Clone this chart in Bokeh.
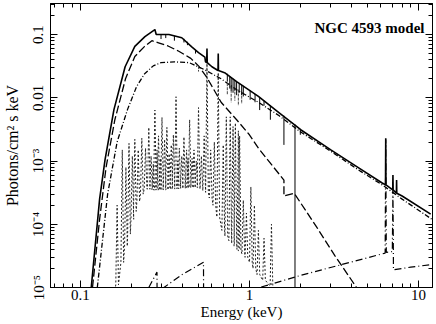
import numpy as np
from bokeh.plotting import figure
from bokeh.models import LogAxis, FixedTicker, Range1d, Label
from bokeh.embed import file_html
from bokeh.resources import INLINE

# ---------------- data ----------------
# total model (solid)
tot_E = [0.116, 0.13, 0.14, 0.158, 0.184, 0.21, 0.241, 0.276, 0.281, 0.334, 0.398, 0.456,
         0.50, 0.545, 0.55, 0.559, 0.561, 0.563, 0.60, 0.652, 0.654, 0.656, 0.713, 0.84,
         1.13, 1.5, 2.02, 3.03, 4.5, 6.1, 6.38, 6.4, 6.42, 7.04, 7.06, 7.08, 7.4, 7.42,
         7.44, 8.0, 11.8]
tot_F = [1e-5, 2.5e-4, 1.05e-3, 6.5e-3, 0.031, 0.065, 0.093, 0.12, 0.1, 0.1, 0.089, 0.064,
         0.052, 0.044, 0.037, 0.036, 0.06, 0.036, 0.031, 0.027, 0.05, 0.027, 0.025, 0.018,
         0.0105, 0.0058, 0.0031, 0.0015, 7.6e-4, 4.5e-4, 4.2e-4, 2.3e-3, 4.2e-4, 3.5e-4, 6e-4,
         3.5e-4, 3.1e-4, 5e-4, 3.1e-4, 2.8e-4, 1.45e-4]

# absorption lines on the total model
abs_E = [0.30, 0.32, 0.36, 0.41, 0.43, 0.48, 0.74, 0.765, 0.78, 0.80, 0.82, 0.84, 0.87,
         0.90, 0.92, 1.01, 1.08, 1.15, 1.22, 1.33, 1.6, 1.86, 2.0]
abs_top = [0.1, 0.1, 0.095, 0.086, 0.077, 0.057, 0.024, 0.022, 0.021, 0.020, 0.019, 0.018,
           0.017, 0.016, 0.0155, 0.013, 0.0115, 0.0102, 0.009, 0.0076, 0.0052, 0.0038, 0.0032]
abs_bot = [0.085, 0.088, 0.08, 0.075, 0.068, 0.05, 0.018, 0.014, 0.013, 0.012, 0.013, 0.011,
           0.012, 0.011, 0.0105, 0.0093, 0.0085, 0.0064, 0.0075, 0.0045, 0.0018, 9e-6, 0.0026]

# soft excess component (long dash)
soft_E = [0.118, 0.13, 0.142, 0.16, 0.185, 0.21, 0.24, 0.265, 0.29, 0.33, 0.38, 0.45, 0.5,
          0.56, 0.68, 0.84, 1.0, 1.13, 1.28, 1.6, 1.6, 1.84, 2.5, 3.2, 4.3]
soft_F = [1e-5, 1.2e-4, 8e-4, 4.5e-3, 0.02, 0.045, 0.065, 0.08, 0.074, 0.066, 0.055, 0.042,
          0.032, 0.021, 0.0085, 0.0045, 0.0026, 0.0016, 0.00105, 0.0005, 0.00028, 0.00031,
          9e-5, 3.2e-5, 1e-5]

# absorbed power law (dash-dot)
pl_E = [0.126, 0.145, 0.165, 0.19, 0.215, 0.24, 0.27, 0.3, 0.36, 0.44, 0.54, 0.68, 0.84,
        1.13, 1.5, 2.0, 3.0, 4.5, 6.1, 8.0, 12.0]
pl_F = [1e-5, 3e-4, 2e-3, 6.5e-3, 0.015, 0.024, 0.032, 0.036, 0.037, 0.036, 0.028, 0.02,
        0.0134, 0.0085, 0.0052, 0.0029, 0.00145, 7e-4, 4.2e-4, 2.5e-4, 1.2e-4]
pl_abs_E = [0.50, 0.74, 0.78, 0.82, 0.86, 0.90]
pl_abs_top = [0.032, 0.017, 0.0155, 0.0145, 0.0135, 0.0125]
pl_abs_bot = [0.026, 0.011, 0.0085, 0.009, 0.0075, 0.008]

# reflection component (dash-dot, bottom)
ref_E = [0.254, 0.284, 0.2845, 0.312, 0.40, 0.535, 0.536, 1.15, 2.0, 3.5, 6.35, 6.4, 6.45,
         7.0, 7.06, 7.1, 7.11, 9.0, 12.0]
ref_F = [1e-5, 1.75e-5, 5e-6, 1e-5, 1.6e-5, 2.5e-5, 5e-6, 1e-5, 1.55e-5, 2.3e-5, 3.5e-5,
         2.2e-3, 3.6e-5, 3.7e-5, 3.5e-4, 3.7e-5, 1.9e-5, 2.1e-5, 2.3e-5]

# photoionised emission lines (dotted): energy, peak, foot
em_E = [0.165, 0.177, 0.186, 0.194, 0.203, 0.210, 0.220, 0.231, 0.243,
        0.254, 0.262, 0.270, 0.276, 0.284, 0.290, 0.298, 0.304, 0.315, 0.325,
        0.335, 0.345, 0.355, 0.368, 0.377, 0.385, 0.398, 0.410, 0.425, 0.433,
        0.443, 0.458, 0.470, 0.485, 0.500, 0.520, 0.540, 0.561, 0.590, 0.620,
        0.654, 0.700, 0.730, 0.770, 0.800, 0.826, 0.860, 0.875, 0.920, 0.960,
        1.020, 1.070, 1.130, 1.220, 1.350]
em_peak = [2.0e-4, 1.5e-3, 8.0e-4, 1.9e-3, 1.2e-3, 2.2e-3, 1.5e-3, 2.3e-3, 1.6e-3,
           3.4e-3, 1.2e-3, 9.0e-4, 6.4e-3, 1.5e-3, 2.5e-3, 1.1e-3, 4.9e-3, 2.2e-3, 3.4e-3,
           1.3e-3, 1.8e-3, 2.6e-3, 1.04e-2, 1.0e-3, 1.6e-3, 1.2e-3, 2.4e-3, 1.5e-3, 1.1e-3,
           4.5e-3, 1.1e-3, 1.5e-3, 1.0e-3, 7.0e-3, 1.2e-3, 2.5e-3, 3.5e-2, 1.5e-3, 2.0e-3,
           2.5e-2, 1.8e-3, 5.0e-3, 5.0e-3, 3.5e-3, 4.0e-3, 3.0e-3, 2.5e-3, 2.4e-4, 1.5e-4,
           3.9e-4, 2.0e-4, 8.0e-5, 6.0e-5, 1.0e-4]
em_base = [1.1e-5, 2.5e-5, 4.5e-5, 7.0e-5, 1.2e-4, 1.6e-4, 2.3e-4, 3.0e-4, 3.6e-4,
           3.6e-4, 3.6e-4, 3.5e-4, 3.5e-4, 3.5e-4, 3.5e-4, 3.5e-4, 3.5e-4, 3.5e-4, 3.5e-4,
           3.6e-4, 3.6e-4, 3.6e-4, 3.7e-4, 3.7e-4, 3.7e-4, 3.7e-4, 3.7e-4, 3.7e-4, 3.8e-4,
           3.8e-4, 3.8e-4, 3.8e-4, 3.8e-4, 3.8e-4, 3.6e-4, 3.4e-4, 3.2e-4, 2.6e-4, 2.0e-4,
           1.3e-4, 8.0e-5, 6.5e-5, 5.5e-5, 5.0e-5, 4.5e-5, 4.0e-5, 3.8e-5, 3.4e-5, 3.0e-5,
           2.5e-5, 2.0e-5, 1.6e-5, 1.3e-5, 1.05e-5]
em_edge_E = [0.16, 1.40]
em_edge_F = [9e-6, 9e-6]

x_major = [0.1, 1, 10]
x_labels = ["0.1", "1", "10"]
x_minor = [0.07, 0.08, 0.09, 0.2, 0.3, 0.4, 0.5, 0.6, 0.7, 0.8, 0.9,
           2, 3, 4, 5, 6, 7, 8, 9]
y_major = [1e-5, 1e-4, 1e-3, 1e-2, 1e-1]
y_labels = ["10\u207b\u2075", "10\u207b\u2074", "10\u207b\u00b3", "0.01", "0.1"]
y_minor = [m * 10.0 ** d for d in range(-5, 0) for m in range(2, 10)]

title_text = "NGC 4593 model"
x_title = "Energy (keV)"
y_title = "Photons/cm\u00b2 s keV"

# ---------------- figure ----------------
FONT = "Liberation Serif"
p = figure(width=436, height=324, x_axis_type="log", y_axis_type="log",
           x_range=Range1d(0.0666, 12.1), y_range=Range1d(1e-5, 0.31),
           output_backend="svg", toolbar_location=None,
           min_border_left=49, min_border_right=4, min_border_top=3, min_border_bottom=37)
p.xgrid.visible = False
p.ygrid.visible = False
p.outline_line_color = "black"
p.background_fill_color = "white"
p.border_fill_color = "white"

# emission line spectrum as narrow tents
hw = 10 ** 0.008
ex, ey = [em_edge_E[0]], [em_edge_F[0]]
for E, pk, b in zip(em_E, em_peak, em_base):
    ex += [E / hw, E, E * hw]
    ey += [b, pk, b]
ex.append(em_edge_E[1]); ey.append(em_edge_F[1])
p.line(ex, ey, line_color="#222222", line_width=1, line_dash="2 2")

p.line(ref_E, ref_F, line_color="black", line_width=1.2, line_dash="7 3 1 3")
p.line(soft_E, soft_F, line_color="black", line_width=1.3, line_dash="8 3")
p.line(pl_E, pl_F, line_color="black", line_width=1.3, line_dash="5 2 1 2")
p.segment(x0=pl_abs_E, y0=pl_abs_top, x1=pl_abs_E, y1=pl_abs_bot,
          line_color="#444444", line_width=1, line_dash="3 1")
p.line(tot_E, tot_F, line_color="black", line_width=1.6)
p.segment(x0=abs_E, y0=abs_top, x1=abs_E, y1=abs_bot, line_color="black", line_width=1)

xt = FixedTicker(ticks=x_major, minor_ticks=x_minor)
yt = FixedTicker(ticks=y_major, minor_ticks=y_minor)


def style(ax, show):
    ax.axis_line_color = "black"
    ax.axis_line_width = 1
    ax.major_tick_in = 7
    ax.major_tick_out = 0
    ax.minor_tick_in = 4
    ax.minor_tick_out = 0
    ax.major_tick_line_color = "black"
    ax.minor_tick_line_color = "black"
    ax.major_label_text_font = FONT
    ax.axis_label_text_font = FONT
    ax.axis_label_text_font_style = "normal"
    ax.major_label_text_color = "black"
    ax.axis_label_text_color = "black"
    if show:
        ax.major_label_text_font_size = "15px"
        ax.axis_label_text_font_size = "15px"
        ax.major_label_standoff = 2
        ax.axis_label_standoff = 1
    else:
        ax.major_label_text_font_size = "0px"
        ax.major_label_standoff = 0
        ax.axis_label = None


xa = p.xaxis[0]
xa.ticker = xt
xa.major_label_overrides = dict(zip(x_major, x_labels))
xa.axis_label = x_title
style(xa, True)

ya = p.yaxis[0]
ya.ticker = yt
ya.major_label_overrides = dict(zip(y_major, y_labels))
ya.major_label_orientation = "vertical"
ya.axis_label = y_title
style(ya, True)
ya.axis_label_text_font_size = "16px"
ya.major_label_standoff = 4
ya.axis_label_standoff = 7

top = LogAxis(ticker=xt, major_label_overrides={t: "" for t in x_major})
style(top, False)
p.add_layout(top, "above")
right = LogAxis(ticker=yt, major_label_overrides={t: "" for t in y_major})
style(right, False)
p.add_layout(right, "right")

p.add_layout(Label(x=10.85, y=0.129, text=title_text, text_align="right",
                   text_baseline="alphabetic", text_font=FONT, text_font_size="15px",
                   text_font_style="bold", text_color="black"))

open("out.html", "w").write(file_html(p, INLINE))
